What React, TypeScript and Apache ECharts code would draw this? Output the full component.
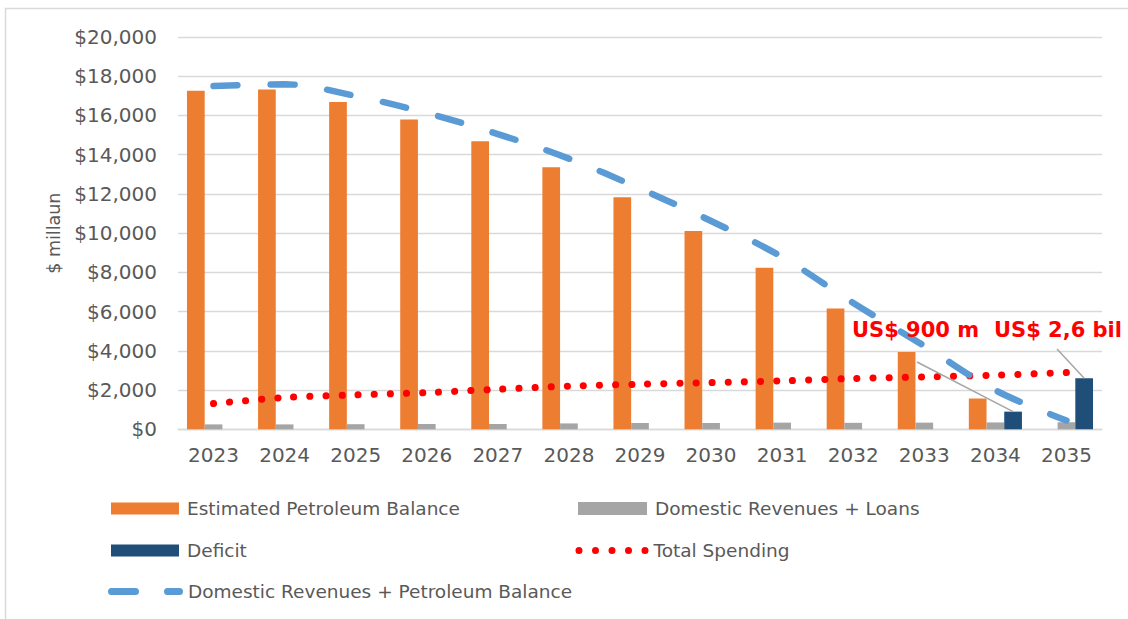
import React, { useEffect, useRef } from "react";
import * as echarts from "echarts";

// ---------- data ----------
const years = ["2023", "2024", "2025", "2026", "2027", "2028", "2029", "2030", "2031", "2032", "2033", "2034", "2035"];
const petroleumBalance = [17260, 17320, 16680, 15800, 14690, 13360, 11830, 10110, 8240, 6160, 3940, 1570, 0];
const domesticRevenuesLoans = [250, 250, 260, 270, 270, 300, 320, 320, 340, 330, 340, 350, 360];
const deficit = [null, null, null, null, null, null, null, null, null, null, null, 900, 2600];
const totalSpending = [1310, 1620, 1755, 1870, 2040, 2200, 2300, 2380, 2470, 2590, 2670, 2760, 2890];
const revenuesPlusBalance = [17500, 17590, 16990, 16120, 15050, 13800, 12270, 10620, 8780, 6440, 4250, 1990, 450];
const yMin = 0;
const yMax = 20000;
const yInterval = 2000;
const annotationYears = ["2034", "2035"];
const annotationTexts = ["US$ 900 m", "US$ 2,6 bil"];

const seriesNames = {
  balance: "Estimated Petroleum Balance",
  revenues: "Domestic Revenues + Loans",
  deficit: "Deficit",
  spending: "Total Spending",
  combined: "Domestic Revenues + Petroleum Balance",
};

const FONT = '"DejaVu Sans", sans-serif';
const TEXT = "#595959";
const GRIDC = "#d9d9d9";
const ORANGE = "#ED7D31";
const GRAY = "#A5A5A5";
const NAVY = "#1F4E79";
const BLUE = "#5B9BD5";
const RED = "#FF0000";
const BAR_W = 17.7;

const DOTS_PATH =
  "path://" +
  [0, 16.5, 33, 49.5, 66]
    .map((x) => `M${x},3.5a3.5,3.5 0 1,0 7,0a3.5,3.5 0 1,0 -7,0Z`)
    .join(" ");
const PILLS_PATH =
  "path://M3.5,0H27.5A3.5,3.5 0 0 1 27.5,7H3.5A3.5,3.5 0 0 1 3.5,0Z M59.5,0H71.5A3.5,3.5 0 0 1 71.5,7H59.5A3.5,3.5 0 0 1 59.5,0Z";

export default function App() {
  const ref = useRef<HTMLDivElement>(null);

  useEffect(() => {
    if (!ref.current) return;
    const chart = echarts.init(ref.current, null, { renderer: "svg" });

    const legendCommon = {
      orient: "horizontal",
      padding: 0,
      itemGap: 0,
      selectedMode: false,
      textStyle: { color: TEXT, fontSize: 18.5, fontFamily: FONT, padding: [0, 0, 0, 3] },
    };

    chart.setOption({
      animation: false,
      textStyle: { fontFamily: FONT },
      grid: { left: 178, right: 26, top: 37, bottom: 189.7 },
      legend: [
        { ...legendCommon, left: 111, top: 499, itemWidth: 68, itemHeight: 12, data: [{ name: seriesNames.balance, icon: "rect" }] },
        { ...legendCommon, left: 578, top: 499, itemWidth: 69, itemHeight: 13, data: [{ name: seriesNames.revenues, icon: "rect" }] },
        { ...legendCommon, left: 111, top: 541, itemWidth: 68, itemHeight: 12, data: [{ name: seriesNames.deficit, icon: "rect" }] },
        {
          ...legendCommon,
          left: 575.5,
          top: 541,
          itemWidth: 73,
          itemHeight: 7,
          textStyle: { ...legendCommon.textStyle, padding: 0 },
          data: [{ name: seriesNames.spending, icon: DOTS_PATH, itemStyle: { color: RED, borderWidth: 0 } }],
        },
        {
          ...legendCommon,
          left: 108,
          top: 582,
          itemWidth: 75,
          itemHeight: 7,
          textStyle: { ...legendCommon.textStyle, padding: 0 },
          data: [{ name: seriesNames.combined, icon: PILLS_PATH, itemStyle: { color: BLUE, borderWidth: 0 } }],
        },
      ],
      xAxis: {
        type: "category",
        data: years,
        axisLine: { show: true, lineStyle: { color: GRIDC, width: 1.3 } },
        axisTick: { show: false },
        axisLabel: { color: TEXT, fontSize: 20, fontFamily: FONT, margin: 16 },
      },
      yAxis: {
        type: "value",
        min: yMin,
        max: yMax,
        interval: yInterval,
        name: "$ millaun",
        nameLocation: "middle",
        nameGap: 114,
        nameTextStyle: { color: TEXT, fontSize: 17.5, fontFamily: FONT },
        axisLine: { show: false },
        axisTick: { show: false },
        splitLine: { lineStyle: { color: GRIDC, width: 1.3 } },
        axisLabel: {
          color: TEXT,
          fontSize: 20,
          fontFamily: FONT,
          margin: 21,
          formatter: (v: number) => "$" + v.toLocaleString("en-US"),
        },
      },
      series: [
        {
          name: seriesNames.balance,
          type: "bar",
          data: petroleumBalance,
          barWidth: BAR_W,
          barGap: "0%",
          itemStyle: { color: ORANGE },
          emphasis: { disabled: true },
        },
        {
          name: seriesNames.revenues,
          type: "bar",
          data: domesticRevenuesLoans,
          barWidth: BAR_W,
          barGap: "0%",
          itemStyle: { color: GRAY },
          emphasis: { disabled: true },
        },
        {
          name: seriesNames.deficit,
          type: "bar",
          data: deficit,
          barWidth: BAR_W,
          barGap: "0%",
          itemStyle: { color: NAVY },
          emphasis: { disabled: true },
        },
        {
          name: seriesNames.spending,
          type: "line",
          data: totalSpending,
          smooth: 0.3,
          showSymbol: false,
          symbol: "none",
          itemStyle: { color: RED },
          lineStyle: { color: RED, width: 7, type: [0.1, 16], cap: "round" },
          emphasis: { disabled: true },
          z: 3,
        },
        {
          name: seriesNames.combined,
          type: "line",
          data: revenuesPlusBalance,
          smooth: 0.35,
          showSymbol: false,
          symbol: "none",
          itemStyle: { color: BLUE },
          lineStyle: { color: BLUE, width: 6.5, type: [24, 33], cap: "round" },
          emphasis: { disabled: true },
          z: 4,
        },
      ],
    });

    // annotations anchored to the deficit bars via the chart's own scales
    const tops = annotationYears.map((yr) => {
      const i = years.indexOf(yr);
      const p = chart.convertToPixel({ xAxisIndex: 0, yAxisIndex: 0 }, [yr, deficit[i] as number]) as number[];
      return [p[0] + BAR_W, p[1]];
    });
    const lineStarts = [
      [917, 362],
      [1057, 349],
    ];

    chart.setOption({
      graphic: [
        {
          type: "polyline",
          silent: true,
          shape: { points: [[5.5, 619], [5.5, 8.5], [1128, 8.5]] },
          style: { stroke: GRIDC, lineWidth: 1.5, fill: "none" },
        },
        ...tops.map((t, k) => ({
          type: "line",
          silent: true,
          z: 10,
          shape: { x1: lineStarts[k][0], y1: lineStarts[k][1], x2: t[0], y2: t[1] },
          style: { stroke: "#A6A6A6", lineWidth: 1.5 },
        })),
        {
          type: "text",
          silent: true,
          z: 11,
          x: 852,
          y: 330,
          style: {
            text: annotationTexts[0],
            fill: RED,
            font: `bold 21px ${FONT}`,
            textAlign: "left",
            textVerticalAlign: "middle",
          },
        },
        {
          type: "text",
          silent: true,
          z: 11,
          x: 1122,
          y: 330,
          style: {
            text: annotationTexts[1],
            fill: RED,
            font: `bold 21px ${FONT}`,
            textAlign: "right",
            textVerticalAlign: "middle",
          },
        },
      ],
    });

    return () => chart.dispose();
  }, []);

  return (
    <div
      ref={ref}
      style={{ position: "absolute", left: 0, top: 0, width: 1128, height: 619, background: "#fff" }}
    />
  );
}
